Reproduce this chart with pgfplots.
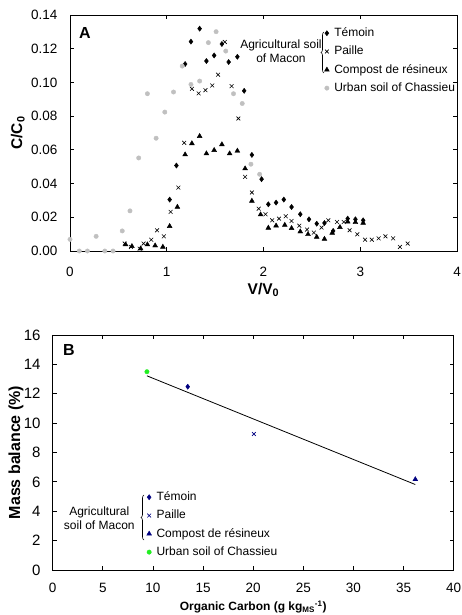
\documentclass[border=0pt]{standalone}
\usepackage{fontspec}
\setmainfont{Liberation Sans}
\usepackage{pgfplots}
\pgfplotsset{compat=1.18}
\usetikzlibrary{decorations.pathreplacing}

\definecolor{pale}{HTML}{C0C0C0}
\definecolor{navy}{HTML}{000080}
\definecolor{lgreen}{HTML}{22EE22}

\pgfplotsset{
  panel/.style={
    scale only axis, anchor=south west, clip=false,
    tick align=inside, major tick length=4pt,
    axis line style={line width=0.9pt},
    tick style={black, line width=0.8pt},
    /pgf/number format/assume math mode=true,
    legend image code/.code={\draw[##1] plot coordinates {(0pt,0pt)};},
    legend cell align=left,
    legend style={anchor=north west, draw=none, fill=none, inner sep=0pt,
      font=\fontsize{12}{14}\selectfont, row sep=6.8pt, column sep=5pt,
      nodes={inner sep=0pt, text height=9pt, text depth=2.5pt}},
  },
}

\begin{document}
\begin{tikzpicture}
\useasboundingbox (0pt,0pt) rectangle (462pt,615pt);

% --- A: breakthrough curves
\begin{axis}[panel, at={(70pt,364pt)}, width=387pt, height=236pt,
  xmin=0, xmax=4, ymin=0, ymax=0.14,
  xtick={0,1,2,3,4},
  ytick={0,0.02,0.04,0.06,0.08,0.10,0.12,0.14},
  ticklabel style={font=\fontsize{13.5}{16}\selectfont},
  xticklabel style={anchor=north, inner sep=0pt, yshift=-16pt},
  yticklabel style={anchor=east, inner sep=0pt, xshift=-12.5pt,
    /pgf/number format/fixed, /pgf/number format/fixed zerofill,
    /pgf/number format/precision=2},
  xlabel={V/V\textsubscript{0}}, ylabel={C/C\textsubscript{0}},
  label style={font=\bfseries\fontsize{15.5}{18}\selectfont},
  xlabel style={at={(axis description cs:0.5,-0.165)}, anchor=center},
  ylabel style={at={(axis description cs:-0.135,0.5)}, anchor=center},
  legend style={at={(axis description cs:0.657,0.948)}},
]
\addplot[only marks, mark=diamond*, mark size=2.6pt, black] coordinates {
(1.03,0.0305)(1.10,0.0507)(1.19,0.1109)(1.25,0.1242)(1.34,0.1319)(1.41,0.1127)
(1.49,0.1160)(1.57,0.1228)(1.64,0.1121)(1.73,0.1152)(1.80,0.0950)(1.88,0.0570)
(1.98,0.0426)(2.05,0.0277)(2.13,0.0287)(2.21,0.0305)(2.29,0.0261)(2.38,0.0218)
(2.47,0.0188)(2.55,0.0162)(2.63,0.0166)(2.72,0.0119)(2.87,0.0192)(2.95,0.0188)
(3.03,0.0182)
};
\addplot[only marks, mark=x, mark size=2.7pt, black, mark options={line width=0.6pt}] coordinates {
(0.565,0.0044)(0.63,0.0024)(0.72,0.0014)(0.76,0.0044)(0.84,0.0067)(0.90,0.0123)
(0.97,0.0087)(1.04,0.0232)(1.12,0.0376)(1.18,0.0642)(1.26,0.0962)(1.33,0.0935)
(1.40,0.0954)(1.47,0.0982)(1.53,0.1046)(1.60,0.1240)(1.67,0.0978)(1.74,0.0786)
(1.81,0.0440)(1.88,0.0347)(1.95,0.0251)(2.02,0.0218)(2.09,0.0182)(2.16,0.0192)
(2.23,0.0206)(2.29,0.0178)(2.37,0.0150)(2.45,0.0127)(2.52,0.0109)(2.60,0.0139)
(2.67,0.0182)(2.76,0.0172)(2.83,0.0172)(2.89,0.0123)(2.97,0.0099)(3.05,0.0067)
(3.12,0.0067)(3.19,0.0075)(3.26,0.0087)(3.34,0.0075)(3.41,0.0024)(3.49,0.0044)
};
\addplot[only marks, mark=triangle*, mark size=2.8pt, black] coordinates {
(0.575,0.0038)(0.64,0.0028)(0.73,0.0014)(0.80,0.0038)(0.88,0.0032)(0.96,0.0024)
(1.03,0.0147)(1.11,0.0261)(1.19,0.0572)(1.26,0.0638)(1.34,0.0681)(1.41,0.0578)
(1.49,0.0598)(1.57,0.0632)(1.65,0.0578)(1.73,0.0594)(1.81,0.0489)(1.88,0.0297)
(1.97,0.0216)(2.05,0.0137)(2.13,0.0150)(2.22,0.0154)(2.29,0.0135)(2.38,0.0115)
(2.46,0.0099)(2.55,0.0083)(2.63,0.0071)(2.71,0.0107)(2.79,0.0141)(2.87,0.0174)
(2.95,0.0170)(3.03,0.0166)
};
\addplot[only marks, mark=*, mark size=2.2pt, pale, mark options={draw=pale, fill=pale}] coordinates {
(0,0.0069)(0.096,0)(0.18,0)(0.27,0.0087)(0.36,0)(0.445,0)(0.54,0.0119)
(0.62,0.0238)(0.71,0.0552)(0.80,0.0933)(0.89,0.0669)(0.98,0.0824)(1.07,0.0943)
(1.16,0.1097)(1.25,0.0988)(1.34,0.1008)(1.43,0.1236)(1.51,0.1301)(1.61,0.1186)
(1.69,0.0933)(1.78,0.0875)(1.87,0.0515)(1.96,0.0455)
};
\legend{Témoin, Paille, Compost de résineux, Urban soil of Chassieu}
\end{axis}
\draw[decorate, decoration={brace, amplitude=3pt}, line width=0.6pt] (324pt,542pt) -- (324pt,583pt);
\node[align=center, font=\fontsize{12}{14}\selectfont] at (281pt,564pt) {Agricultural soil\\of Macon};
\node[font=\bfseries\fontsize{16}{18}\selectfont] at (85pt,582pt) {A};

% --- B: mass balance vs organic carbon
\begin{axis}[panel, at={(52.7pt,45pt)}, width=401pt, height=235pt,
  xmin=0, xmax=40, ymin=0, ymax=16,
  xtick={0,5,10,15,20,25,30,35,40},
  ytick={0,2,4,6,8,10,12,14,16},
  xticklabel style={anchor=north, inner sep=0pt, yshift=-12.6pt, font=\fontsize{13.5}{16}\selectfont},
  yticklabel style={anchor=east, inner sep=0pt, xshift=-12pt, font=\fontsize{15}{17}\selectfont},
  xlabel={Organic Carbon (g kg\textsubscript{MS}\textsuperscript{-1})},
  ylabel={Mass balance (\%)},
  xlabel style={at={(axis description cs:0.5,-0.157)}, anchor=center, font=\bfseries\fontsize{12}{14}\selectfont},
  ylabel style={at={(axis description cs:-0.0916,0.5)}, anchor=center, font=\bfseries\fontsize{16}{18}\selectfont},
  legend style={at={(axis description cs:0.234,0.335)}},
]
\addplot[only marks, mark=diamond*, mark size=2.6pt, navy] coordinates {(13.47,12.48)};
\addplot[only marks, mark=x, mark size=2.7pt, navy, mark options={line width=0.6pt}] coordinates {(20.07,9.26)};
\addplot[only marks, mark=triangle*, mark size=2.8pt, navy] coordinates {(36.17,6.17)};
\addplot[only marks, mark=*, mark size=2.2pt, lgreen, mark options={draw=lgreen, fill=lgreen}] coordinates {(9.4,13.5)};
\addplot[black, line width=0.8pt, no marks, forget plot] coordinates {(9.4,13.22)(36.17,5.82)};
\legend{Témoin, Paille, Compost de résineux, Urban soil of Chassieu}
\end{axis}
\draw[decorate, decoration={brace, amplitude=3pt}, line width=0.6pt] (144pt,75pt) -- (144pt,120pt);
\node[align=center, font=\fontsize{12}{14}\selectfont] at (99.3pt,96.3pt) {Agricultural\\soil of Macon};
\node[font=\bfseries\fontsize{16}{18}\selectfont] at (69pt,265pt) {B};
\end{tikzpicture}
\end{document}
